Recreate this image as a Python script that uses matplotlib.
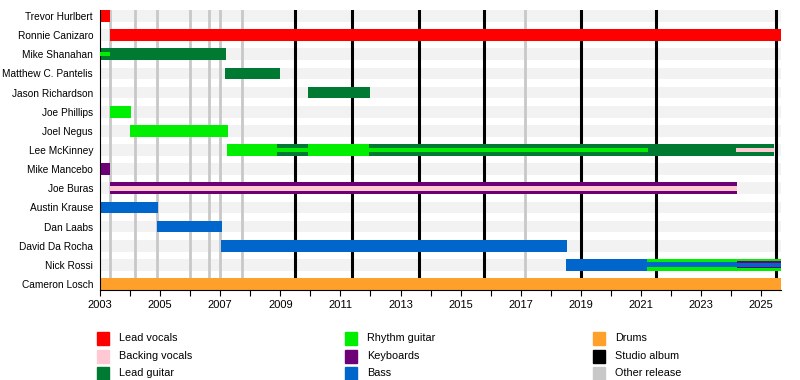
import matplotlib.pyplot as plt
import matplotlib.patches as mpatches

plt.rcParams['font.family'] = ['Liberation Sans', 'DejaVu Sans']

# membri (dall'alto verso il basso)
members = ["Trevor Hurlbert", "Ronnie Canizaro", "Mike Shanahan", "Matthew C. Pantelis",
           "Jason Richardson", "Joe Phillips", "Joel Negus", "Lee McKinney", "Mike Mancebo",
           "Joe Buras", "Austin Krause", "Dan Laabs", "David Da Rocha", "Nick Rossi",
           "Cameron Losch"]

role_colors = {
    "Lead vocals": "#ff0000",
    "Backing vocals": "#ffc8d2",
    "Lead guitar": "#007a33",
    "Rhythm guitar": "#00ee00",
    "Keyboards": "#6e0077",
    "Bass": "#0066cc",
    "Drums": "#ffa02a",
    "Studio album": "#000000",
    "Other release": "#c8c8c8",
}

# barre piene: (membro, ruolo, inizio, fine)
full_bars = [
    ("Trevor Hurlbert", "Lead vocals", 2003.0, 2003.33),
    ("Ronnie Canizaro", "Lead vocals", 2003.33, 2025.66),
    ("Mike Shanahan", "Lead guitar", 2003.0, 2007.19),
    ("Matthew C. Pantelis", "Lead guitar", 2007.16, 2008.99),
    ("Jason Richardson", "Lead guitar", 2009.92, 2011.98),
    ("Joe Phillips", "Rhythm guitar", 2003.33, 2004.03),
    ("Joel Negus", "Rhythm guitar", 2004.0, 2007.26),
    ("Lee McKinney", "Rhythm guitar", 2007.22, 2008.9),
    ("Lee McKinney", "Lead guitar", 2008.9, 2009.92),
    ("Lee McKinney", "Rhythm guitar", 2009.92, 2011.95),
    ("Lee McKinney", "Lead guitar", 2011.95, 2025.43),
    ("Mike Mancebo", "Keyboards", 2003.0, 2003.33),
    ("Joe Buras", "Keyboards", 2003.33, 2024.18),
    ("Austin Krause", "Bass", 2003.0, 2004.92),
    ("Dan Laabs", "Bass", 2004.9, 2007.05),
    ("David Da Rocha", "Bass", 2007.02, 2018.53),
    ("Nick Rossi", "Bass", 2018.5, 2021.19),
    ("Nick Rossi", "Rhythm guitar", 2021.19, 2025.66),
    ("Cameron Losch", "Drums", 2003.0, 2025.66),
]

# ruoli secondari: (membro, ruolo, inizio, fine, spessore relativo)
stripes = [
    ("Mike Shanahan", "Rhythm guitar", 2003.0, 2003.33, 0.38),
    ("Lee McKinney", "Rhythm guitar", 2008.9, 2009.92, 0.38),
    ("Lee McKinney", "Rhythm guitar", 2011.95, 2021.22, 0.38),
    ("Lee McKinney", "Backing vocals", 2024.16, 2025.43, 0.38),
    ("Joe Buras", "Backing vocals", 2003.33, 2024.18, 0.42),
    ("Nick Rossi", "Bass", 2021.19, 2025.66, 0.45),
    ("Nick Rossi", "Keyboards", 2024.18, 2025.66, 0.6),
    ("Nick Rossi", "Bass", 2024.18, 2025.66, 0.38),
]

studio_albums = [2009.50, 2011.39, 2013.63, 2015.79, 2019.02, 2021.49, 2025.51]
other_releases = [2003.33, 2004.17, 2004.90, 2006.0, 2006.64, 2006.99, 2007.74, 2017.14]

x_start, x_end = 2003.0, 2025.66
bar_h = 0.61

fig = plt.figure(figsize=(8, 3.8), dpi=100)
ax = fig.add_axes([100 / 800, 1 - 290 / 380, 681 / 800, 280 / 380])

row = {m: i for i, m in enumerate(members)}

# fasce di sfondo
for i in range(len(members)):
    ax.barh(i, x_end - x_start, left=x_start, height=bar_h, color="#f2f2f2", zorder=0)

for d in other_releases:
    ax.axvline(d, color=role_colors["Other release"], lw=2.0, zorder=1)
for d in studio_albums:
    ax.axvline(d, color=role_colors["Studio album"], lw=2.2, zorder=1)

for m, r, s, e in full_bars:
    ax.barh(row[m], e - s, left=s, height=bar_h, color=role_colors[r], zorder=2)
for m, r, s, e, f in stripes:
    ax.barh(row[m], e - s, left=s, height=bar_h * f, color=role_colors[r], zorder=3)

ax.set_xlim(x_start, x_end)
ax.set_ylim(len(members) - 1 + 0.313, -0.313)
ax.set_yticks(range(len(members)))
ax.set_yticklabels(members, fontsize=7.3)
ax.tick_params(axis="y", length=0, pad=5)
ax.set_xticks(range(2003, 2026, 2))
ax.set_xticks(range(2003, 2026), minor=True)
ax.tick_params(axis="x", which="both", length=4, width=0.8, labelsize=8)
for s in ["top", "right"]:
    ax.spines[s].set_visible(False)
ax.spines["left"].set_linewidth(0.8)
ax.spines["bottom"].set_linewidth(0.8)

# legenda manuale
legend_cols = [
    ["Lead vocals", "Backing vocals", "Lead guitar"],
    ["Rhythm guitar", "Keyboards", "Bass"],
    ["Drums", "Studio album", "Other release"],
]
col_x = [97, 345, 593]
row_y = [338, 356, 373]
for cx, labels in zip(col_x, legend_cols):
    for ry, lab in zip(row_y, labels):
        fig.patches.append(mpatches.Rectangle((cx / 800, 1 - (ry + 6.5) / 380), 12 / 800, 13 / 380,
                                              color=role_colors[lab], transform=fig.transFigure))
        fig.text((cx + 22) / 800, 1 - ry / 380, lab, fontsize=7.8, va="center", ha="left")

plt.savefig("out.png", dpi=100)
